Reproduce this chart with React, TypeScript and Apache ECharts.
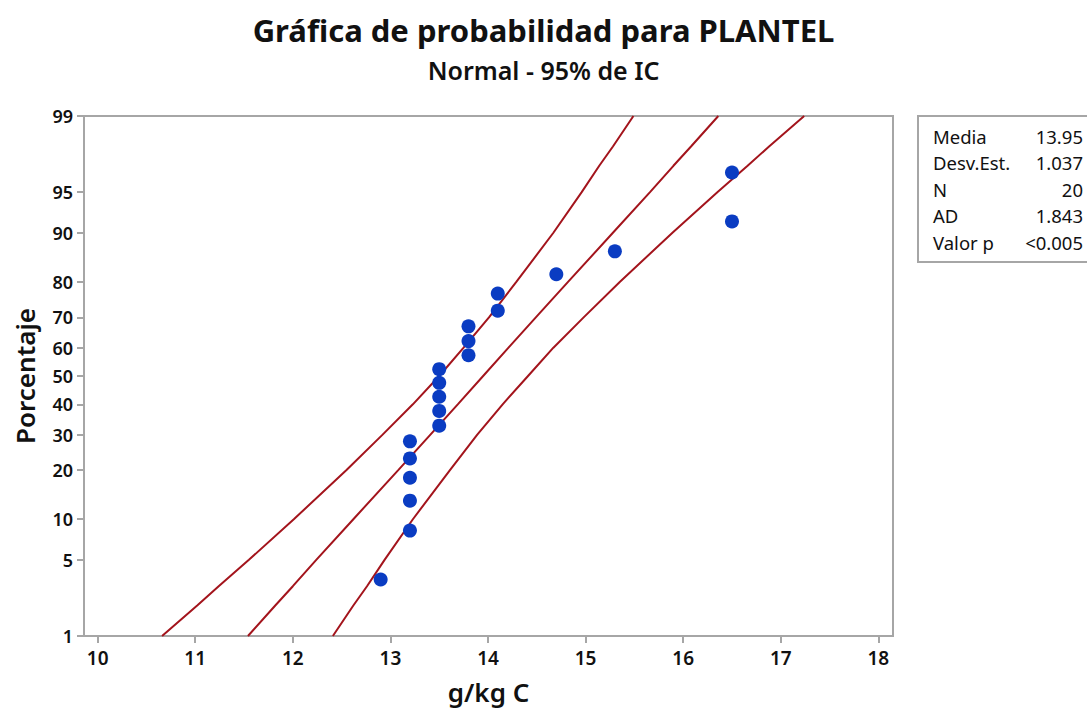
import React, { useEffect, useRef } from "react";
import * as echarts from "echarts";

// ---- data ----
const titleText = "Gráfica de probabilidad para PLANTEL";
const subtitleText = "Normal - 95% de IC";
const xAxisName = "g/kg C";
const yAxisName = "Porcentaje";

// observed values (sorted) and their plotted percentages
const pointX = [12.9, 13.2, 13.2, 13.2, 13.2, 13.2, 13.5, 13.5, 13.5, 13.5, 13.5, 13.8, 13.8, 13.8, 14.1, 14.1, 14.7, 15.3, 16.5, 16.5];
const pointPct = [3.43, 8.33, 13.24, 18.14, 23.04, 27.94, 32.84, 37.75, 42.65, 47.55, 52.45, 57.35, 62.25, 67.16, 72.06, 76.96, 81.86, 86.76, 91.67, 96.57];

// fitted line and 95% confidence band, read at these percentages
const bandPct = [1, 2, 3, 5, 10, 20, 30, 40, 50, 60, 70, 80, 90, 95, 97, 98, 99];
const bandLeftX = [10.66, 11.02, 11.24, 11.55, 12.01, 12.55, 12.92, 13.23, 13.5, 13.75, 14.01, 14.29, 14.67, 14.96, 15.14, 15.28, 15.49];
const fitX = [11.54, 11.82, 12.0, 12.24, 12.62, 13.08, 13.41, 13.69, 13.95, 14.21, 14.49, 14.82, 15.28, 15.66, 15.9, 16.08, 16.36];
const bandRightX = [12.41, 12.62, 12.76, 12.94, 13.23, 13.61, 13.89, 14.15, 14.41, 14.67, 14.98, 15.35, 15.89, 16.35, 16.66, 16.88, 17.24];

const yTickPct = [1, 5, 10, 20, 30, 40, 50, 60, 70, 80, 90, 95, 99];
const xTicks = [10, 11, 12, 13, 14, 15, 16, 17, 18];

const statLabels = ["Media", "Desv.Est.", "N", "AD", "Valor p"];
const statValues = ["13.95", "1.037", "20", "1.843", "<0.005"];

// ---- normal probability scale ----
function probit(p: number): number {
  const a = [-3.969683028665376e1, 2.209460984245205e2, -2.759285104469687e2, 1.38357751867269e2, -3.066479806614716e1, 2.506628277459239];
  const b = [-5.447609879822406e1, 1.615858368580409e2, -1.556989798598866e2, 6.680131188771972e1, -1.328068155288572e1];
  const c = [-7.784894002430293e-3, -3.223964580411365e-1, -2.400758277161838, -2.549732539343734, 4.374664141464968, 2.938163982698783];
  const d = [7.784695709041462e-3, 3.224671290700398e-1, 2.445134137142996, 3.754408661907416];
  const plow = 0.02425;
  if (p < plow) {
    const q = Math.sqrt(-2 * Math.log(p));
    return (((((c[0] * q + c[1]) * q + c[2]) * q + c[3]) * q + c[4]) * q + c[5]) / ((((d[0] * q + d[1]) * q + d[2]) * q + d[3]) * q + 1);
  }
  if (p <= 1 - plow) {
    const q = p - 0.5;
    const r = q * q;
    return ((((((a[0] * r + a[1]) * r + a[2]) * r + a[3]) * r + a[4]) * r + a[5]) * q) / (((((b[0] * r + b[1]) * r + b[2]) * r + b[3]) * r + b[4]) * r + 1);
  }
  const q = Math.sqrt(-2 * Math.log(1 - p));
  return -(((((c[0] * q + c[1]) * q + c[2]) * q + c[3]) * q + c[4]) * q + c[5]) / ((((d[0] * q + d[1]) * q + d[2]) * q + d[3]) * q + 1);
}

const FONT = "'Noto Sans', 'Open Sans', sans-serif";
const LINE_COLOR = "#A3141C";
const AXIS_COLOR = "#A6A6A6";

export default function App() {
  const ref = useRef<HTMLDivElement>(null);
  useEffect(() => {
    if (!ref.current) return;
    const chart = echarts.init(ref.current, null, { renderer: "svg" });
    const zMin = probit(0.01);
    const zMax = probit(0.99);
    const yTickZ = yTickPct.map((p) => probit(p / 100));
    const labelFor = (v: number) => {
      let best = 0;
      for (let i = 1; i < yTickZ.length; i++) if (Math.abs(yTickZ[i] - v) < Math.abs(yTickZ[best] - v)) best = i;
      return String(yTickPct[best]);
    };
    const band = (xs: number[]) => xs.map((x, i) => [x, probit(bandPct[i] / 100)]);
    const lineSeries = (xs: number[]) => ({
      type: "line",
      data: band(xs),
      showSymbol: false,
      smooth: false,
      lineStyle: { color: LINE_COLOR, width: 2 },
      z: 2,
      silent: true,
    });
    const statGraphics: any[] = [
      {
        type: "rect",
        shape: { x: 918, y: 116, width: 200, height: 146 },
        style: { fill: "#fff", stroke: AXIS_COLOR, lineWidth: 2 },
      },
    ];
    statLabels.forEach((lab, i) => {
      const y = 136 + i * 26.5;
      statGraphics.push({
        type: "text",
        x: 933,
        y,
        style: { text: lab, font: `18.5px ${FONT}`, fill: "#111", textAlign: "left", textVerticalAlign: "middle" },
      });
      statGraphics.push({
        type: "text",
        x: 1083,
        y,
        style: { text: statValues[i], font: `18.5px ${FONT}`, fill: "#111", textAlign: "right", textVerticalAlign: "middle" },
      });
    });

    chart.setOption({
      animation: false,
      backgroundColor: "#fff",
      title: [
        {
          text: titleText,
          left: "center",
          top: 9,
          textStyle: { fontFamily: FONT, fontSize: 31, fontWeight: "bold", color: "#111" },
        },
        {
          text: subtitleText,
          left: "center",
          top: 52,
          textStyle: { fontFamily: FONT, fontSize: 25, fontWeight: 600, color: "#111" },
        },
      ],
      grid: {
        left: 84,
        right: 1087 - 893,
        top: 116,
        bottom: 710 - 636,
        show: true,
        borderColor: AXIS_COLOR,
        borderWidth: 2,
        backgroundColor: "#fff",
        outerBoundsMode: "none",
        containLabel: false,
      },
      xAxis: {
        type: "value",
        min: 9.86,
        max: 18.15,
        name: xAxisName,
        nameLocation: "middle",
        nameGap: 43,
        nameTextStyle: { fontFamily: FONT, fontSize: 26, fontWeight: 600, color: "#111" },
        axisLine: { show: true, onZero: false, lineStyle: { color: AXIS_COLOR, width: 2 } },
        axisTick: { show: true, inside: false, length: 7, customValues: xTicks, lineStyle: { color: AXIS_COLOR, width: 2 } },
        axisLabel: { customValues: xTicks, margin: 12, fontFamily: FONT, fontSize: 19, fontWeight: 600, color: "#111" },
        splitLine: { show: false },
      },
      yAxis: {
        type: "value",
        min: zMin,
        max: zMax,
        name: yAxisName,
        nameLocation: "middle",
        nameGap: 46,
        nameTextStyle: { fontFamily: FONT, fontSize: 26, fontWeight: 600, color: "#111" },
        axisLine: { show: true, onZero: false, lineStyle: { color: AXIS_COLOR, width: 2 } },
        axisTick: { show: true, inside: false, length: 7, customValues: yTickZ, lineStyle: { color: AXIS_COLOR, width: 2 } },
        axisLabel: {
          customValues: yTickZ,
          formatter: (v: number) => labelFor(v),
          margin: 11,
          fontFamily: FONT,
          fontSize: 18,
          fontWeight: 600,
          color: "#111",
        },
        splitLine: { show: false },
      },
      series: [
        lineSeries(bandLeftX),
        lineSeries(fitX),
        lineSeries(bandRightX),
        {
          type: "scatter",
          data: pointX.map((x, i) => [x, probit(pointPct[i] / 100)]),
          symbol: "circle",
          symbolSize: 14,
          itemStyle: { color: "#0A3CC2", opacity: 1 },
          z: 3,
        },
      ],
      graphic: statGraphics,
    });
    return () => chart.dispose();
  }, []);
  return <div ref={ref} style={{ position: "absolute", left: 0, top: 0, width: 1087, height: 710 }} />;
}
